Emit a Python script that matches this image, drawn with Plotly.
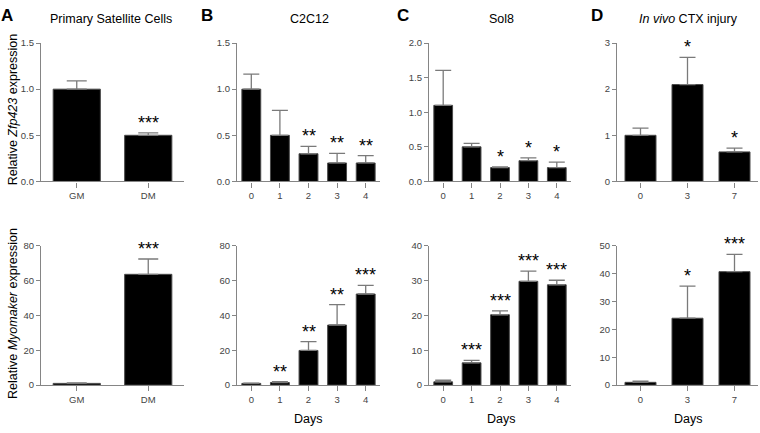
import plotly.graph_objects as go

# ---------------- data ----------------
gm_dm = ["GM", "DM"]
days_5 = ["0", "1", "2", "3", "4"]
days_3 = ["0", "3", "7"]

# Top row: Relative Zfp423 expression
a_top = [1.0, 0.5]
a_top_err = [0.09, 0.026]
a_top_sig = ["", "***"]

b_top = [1.0, 0.5, 0.3, 0.2, 0.2]
b_top_err = [0.164, 0.27, 0.08, 0.105, 0.08]
b_top_sig = ["", "", "**", "**", "**"]

c_top = [1.1, 0.5, 0.2, 0.3, 0.2]
c_top_err = [0.505, 0.05, 0.01, 0.04, 0.08]
c_top_sig = ["", "", "*", "*", "*"]

d_top = [1.0, 2.1, 0.64]
d_top_err = [0.156, 0.59, 0.08]
d_top_sig = ["", "*", "*"]

# Bottom row: Relative Myomaker expression
a_bot = [1.0, 63.6]
a_bot_err = [0.3, 8.8]
a_bot_sig = ["", "***"]

b_bot = [1.0, 1.5, 19.9, 34.5, 52.3]
b_bot_err = [0.2, 0.5, 5.1, 11.7, 5.0]
b_bot_sig = ["", "**", "**", "**", "***"]

c_bot = [0.95, 6.4, 20.2, 29.8, 28.8]
c_bot_err = [0.45, 0.7, 1.1, 2.9, 1.3]
c_bot_sig = ["", "***", "***", "***", "***"]

d_bot = [1.0, 24.0, 40.7]
d_bot_err = [0.4, 11.5, 6.2]
d_bot_sig = ["", "*", "***"]

# y axis tick values
yt_top_a = [0, 0.5, 1.0, 1.5]
yt_top_c = [0, 0.5, 1.0, 1.5, 2.0]
yt_top_d = [0, 1, 2, 3]
yt_bot_a = [0, 20, 40, 60, 80]
yt_bot_c = [0, 10, 20, 30, 40]
yt_bot_d = [0, 10, 20, 30, 40, 50]

panels = [
    # (cats, vals, err, sig, yticks, ymax, tickformat, xdomain_px, row, capw)
    (gm_dm, a_top, a_top_err, a_top_sig, yt_top_a, 1.5, ".1f", (41, 184), 0, 10),
    (days_5, b_top, b_top_err, b_top_sig, yt_top_a, 1.5, ".1f", (237, 380), 0, 8),
    (days_5, c_top, c_top_err, c_top_sig, yt_top_c, 2.0, ".1f", (429, 571), 0, 8),
    (days_3, d_top, d_top_err, d_top_sig, yt_top_d, 3, "d", (617, 758), 0, 8),
    (gm_dm, a_bot, a_bot_err, a_bot_sig, yt_bot_a, 80, "d", (41, 184), 1, 10),
    (days_5, b_bot, b_bot_err, b_bot_sig, yt_bot_a, 80, "d", (237, 380), 1, 8),
    (days_5, c_bot, c_bot_err, c_bot_sig, yt_bot_c, 40, "d", (429, 571), 1, 8),
    (days_3, d_bot, d_bot_err, d_bot_sig, yt_bot_d, 50, "d", (617, 758), 1, 8),
]

W, H = 760, 433
def px_x(p):
    return p / W
def px_y(p):
    return (H - p) / H

ydomains = [(px_y(180), px_y(38)), (px_y(389), px_y(246))]

FONT_FAMILY = "Liberation Sans"
AXIS_COL = "#858585"
TICK_FONT = dict(family=FONT_FAMILY, size=9.5, color="#444444")

fig = go.Figure()
layout = {}
annotations = []

for i, (cats, vals, err, sig, yt, ymax, tfmt, xd, row, capw) in enumerate(panels):
    n = i + 1
    xa = "x" if n == 1 else f"x{n}"
    ya = "y" if n == 1 else f"y{n}"
    fig.add_trace(go.Bar(
        x=cats, y=vals, xaxis=xa, yaxis=ya,
        marker=dict(color="black", line=dict(color="#4a4a4a", width=1)),
        error_y=dict(type="data", array=err, arrayminus=[0] * len(err),
                     symmetric=False, color="#7a7a7a", thickness=1.3, width=capw),
        showlegend=False, hoverinfo="x+y",
    ))
    layout["xaxis" if n == 1 else f"xaxis{n}"] = dict(
        domain=[px_x(xd[0]), px_x(xd[1])], anchor=ya, type="category",
        range=[-0.5, len(cats) - 0.5], showline=True, linecolor=AXIS_COL, linewidth=1.2,
        ticks="outside", ticklen=5, tickcolor=AXIS_COL, tickwidth=1.2,
        tickfont=TICK_FONT, showgrid=False, zeroline=False, fixedrange=True,
    )
    layout["yaxis" if n == 1 else f"yaxis{n}"] = dict(
        domain=list(ydomains[row]), anchor=xa, range=[0, ymax],
        tickvals=yt, tickformat=tfmt, showline=True, linecolor=AXIS_COL, linewidth=1.2,
        ticks="outside", ticklen=4, tickcolor=AXIS_COL, tickwidth=1.2,
        tickfont=TICK_FONT, showgrid=False, zeroline=False, fixedrange=True,
    )
    for k, (v, e, s) in enumerate(zip(vals, err, sig)):
        if s:
            annotations.append(dict(
                x=k, y=v + e, xref=xa, yref=ya, text=s, showarrow=False,
                yanchor="bottom", yshift=-2,
                font=dict(family=FONT_FAMILY, size=18, color="black"),
            ))

TITLE_FONT = dict(family=FONT_FAMILY, size=12.5, color="black")
LETTER_FONT = dict(family=FONT_FAMILY, size=17, color="black")

titles = [("Primary Satellite Cells", 111), ("C2C12", 309), ("Sol8", 501),
          ("<i>In vivo</i> CTX injury", 688)]
for t, x in titles:
    annotations.append(dict(x=px_x(x), y=px_y(13), xref="paper", yref="paper", text=t,
                            showarrow=False, xanchor="center", yanchor="middle", font=TITLE_FONT))

letters = [("<b>A</b>", 7), ("<b>B</b>", 207), ("<b>C</b>", 403), ("<b>D</b>", 597)]
for t, x in letters:
    annotations.append(dict(x=px_x(x), y=px_y(10), xref="paper", yref="paper", text=t,
                            showarrow=False, xanchor="center", yanchor="middle", font=LETTER_FONT))

for x in (308, 501, 688):
    annotations.append(dict(x=px_x(x), y=px_y(424), xref="paper", yref="paper", text="Days",
                            showarrow=False, xanchor="center", yanchor="middle", font=TITLE_FONT))

annotations.append(dict(x=px_x(13), y=px_y(106), xref="paper", yref="paper",
                        text="Relative <i>Zfp423</i> expression", textangle=-90,
                        showarrow=False, xanchor="center", yanchor="middle", font=TITLE_FONT))
annotations.append(dict(x=px_x(13), y=px_y(316), xref="paper", yref="paper",
                        text="Relative <i>Myomaker</i> expression", textangle=-90,
                        showarrow=False, xanchor="center", yanchor="middle", font=TITLE_FONT))

fig.update_layout(
    width=W, height=H, margin=dict(l=0, r=0, t=0, b=0),
    paper_bgcolor="white", plot_bgcolor="white",
    font=dict(family=FONT_FAMILY),
    bargap=0.34, annotations=annotations, **layout,
)

fig.write_html("out.html", config={"displayModeBar": False},
               post_script="document.body.style.margin='0';document.body.style.overflow='hidden';")
